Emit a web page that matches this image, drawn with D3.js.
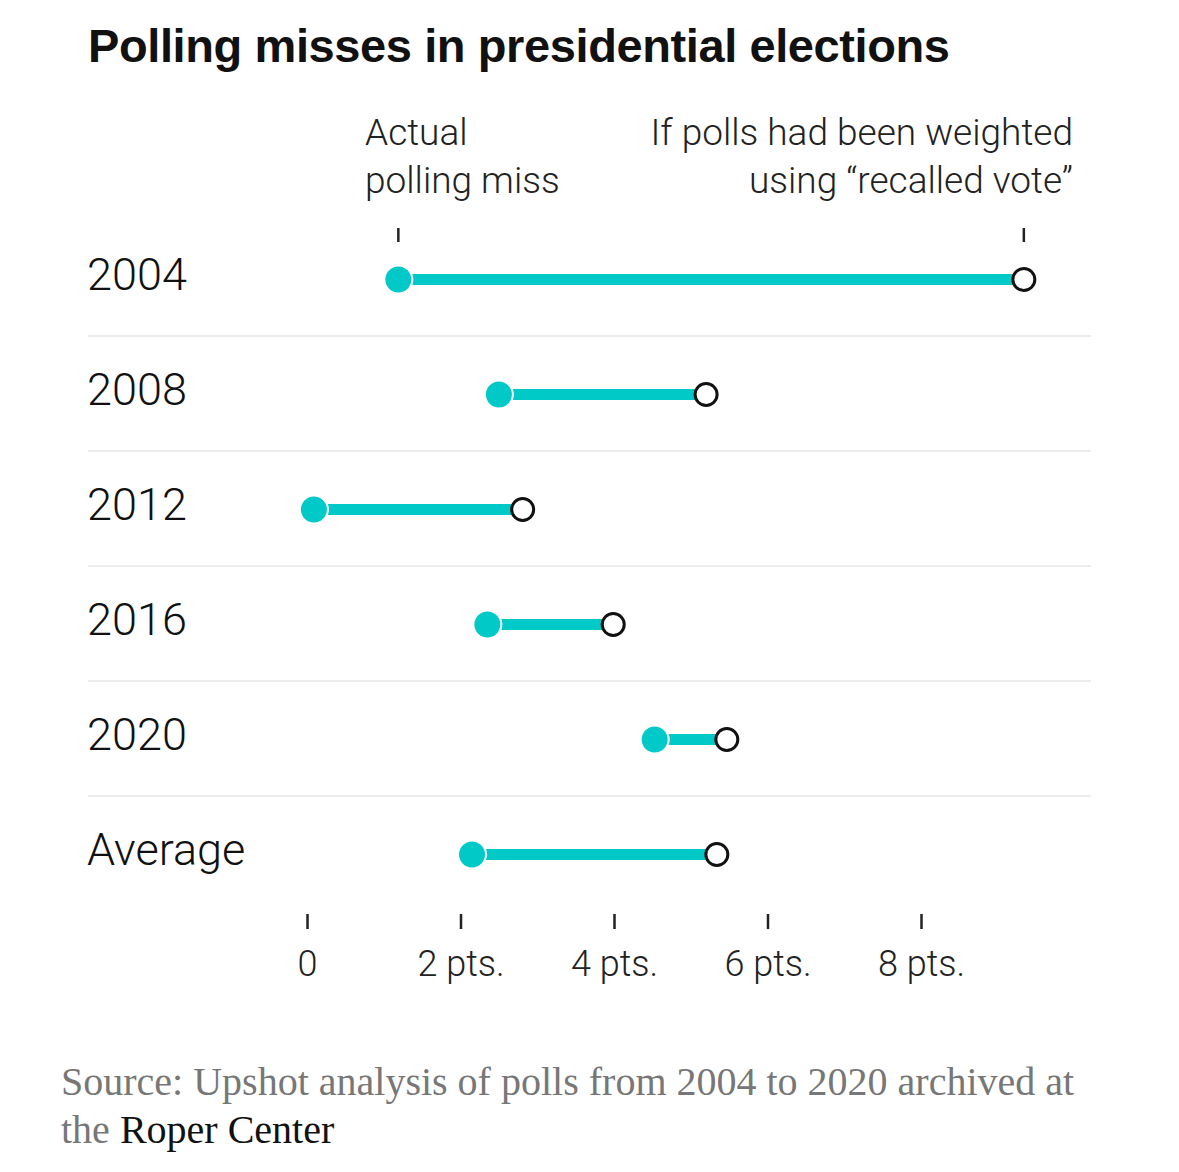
<!DOCTYPE html>
<html>
<head>
<meta charset="utf-8">
<script src="https://cdn.jsdelivr.net/npm/d3@7"></script>
<style>
  body { margin: 0; background: #fff; }
  svg { display: block; }
  .lbl { font-family: Roboto, "Open Sans", sans-serif; font-weight: 300; }
</style>
</head>
<body>
<svg id="chart" width="1179" height="1172"></svg>
<script>
(function (d3) {
    'use strict';

    var years = ['2004', '2008', '2012', '2016', '2020', 'Average'];
    var actualMiss = [1.19, 2.5, 0.09, 2.35, 4.53, 2.15];
    var recalledMiss = [9.34, 5.2, 2.81, 3.99, 5.47, 5.34];
    var tickValues = [0, 2, 4, 6, 8];
    var tickLabels = ['0', '2 pts.', '4 pts.', '6 pts.', '8 pts.'];

    var teal = '#00c9c8',
        svg = d3.select('#chart'),
        x = d3.scaleLinear().domain([0, 8]).range([307, 921]),
        y = d3.scaleBand().domain(years).range([222, 912]);

    // title
    svg.append('text')
        .attr('x', 88)
        .attr('y', 62)
        .style('font-family', '"Liberation Sans", Arial, sans-serif')
        .style('font-weight', 'bold')
        .style('font-size', '47px')
        .style('letter-spacing', '-0.4px')
        .attr('fill', '#111')
        .text('Polling misses in presidential elections');

    // column headers
    var hdr = svg.append('g').attr('class', 'lbl')
        .style('font-size', '37px').attr('fill', '#222');
    hdr.append('text').attr('x', 365).attr('y', 145).text('Actual');
    hdr.append('text').attr('x', 365).attr('y', 193).text('polling miss');
    hdr.append('text').attr('x', 1073).attr('y', 145)
        .attr('text-anchor', 'end').text('If polls had been weighted');
    hdr.append('text').attr('x', 1073).attr('y', 193)
        .attr('text-anchor', 'end').text('using \u201crecalled vote\u201d');

    // top markers pointing at first row
    [actualMiss[0], recalledMiss[0]].forEach(function (v) {
        svg.append('line')
            .attr('x1', x(v)).attr('x2', x(v))
            .attr('y1', 228).attr('y2', 242)
            .attr('stroke', '#222').attr('stroke-width', 2.5);
    });

    // separators
    svg.selectAll('.sep')
        .data(years.slice(1))
        .enter()
      .append('line')
        .attr('class', 'sep')
        .attr('x1', 88).attr('x2', 1091)
        .attr('y1', function (d) { return y(d) - 1; })
        .attr('y2', function (d) { return y(d) - 1; })
        .attr('stroke', '#ececec')
        .attr('stroke-width', 2);

    var rows = svg.selectAll('.row')
        .data(years)
        .enter()
      .append('g')
        .attr('class', 'row')
        .attr('transform', function (d) {
            return 'translate(0,' + (y(d) + y.bandwidth() / 2) + ')';
        });

    rows.append('text')
        .attr('class', 'lbl')
        .attr('x', 87)
        .attr('y', 10)
        .style('font-size', '45px')
        .attr('fill', '#111')
        .text(function (d) { return d; });

    rows.append('line')
        .attr('x1', function (d, i) { return x(actualMiss[i]); })
        .attr('x2', function (d, i) { return x(recalledMiss[i]); })
        .attr('stroke', teal)
        .attr('stroke-width', 11);

    rows.append('circle')
        .attr('cx', function (d, i) { return x(recalledMiss[i]); })
        .attr('r', 11)
        .attr('fill', '#fff')
        .attr('stroke', '#111')
        .attr('stroke-width', 3);

    rows.append('circle')
        .attr('cx', function (d, i) { return x(actualMiss[i]); })
        .attr('r', 14)
        .attr('fill', teal)
        .attr('stroke', '#fff')
        .attr('stroke-width', 2);

    // bottom axis
    var axis = svg.append('g')
        .attr('transform', 'translate(0,914)')
        .call(d3.axisBottom(x)
            .tickValues(tickValues)
            .tickSize(15)
            .tickPadding(21)
            .tickFormat(function (d, i) { return tickLabels[i]; }));
    axis.select('.domain').remove();
    axis.selectAll('.tick line').attr('stroke', '#222').attr('stroke-width', 2.5);
    axis.selectAll('.tick text')
        .attr('class', 'lbl')
        .style('font-size', '36px')
        .attr('fill', '#222')
        .attr('dy', '0.71em');

    // source note
    var src = svg.append('g')
        .style('font-family', '"Liberation Serif", "DejaVu Serif", serif')
        .style('font-size', '40px');
    src.append('text').attr('x', 61).attr('y', 1095)
        .attr('fill', '#777')
        .text('Source: Upshot analysis of polls from 2004 to 2020 archived at');
    var l2 = src.append('text').attr('x', 61).attr('y', 1143).attr('fill', '#777');
    l2.append('tspan').text('the ');
    l2.append('tspan').attr('fill', '#111').text('Roper Center');

}(window.d3));
</script>
</body>
</html>
